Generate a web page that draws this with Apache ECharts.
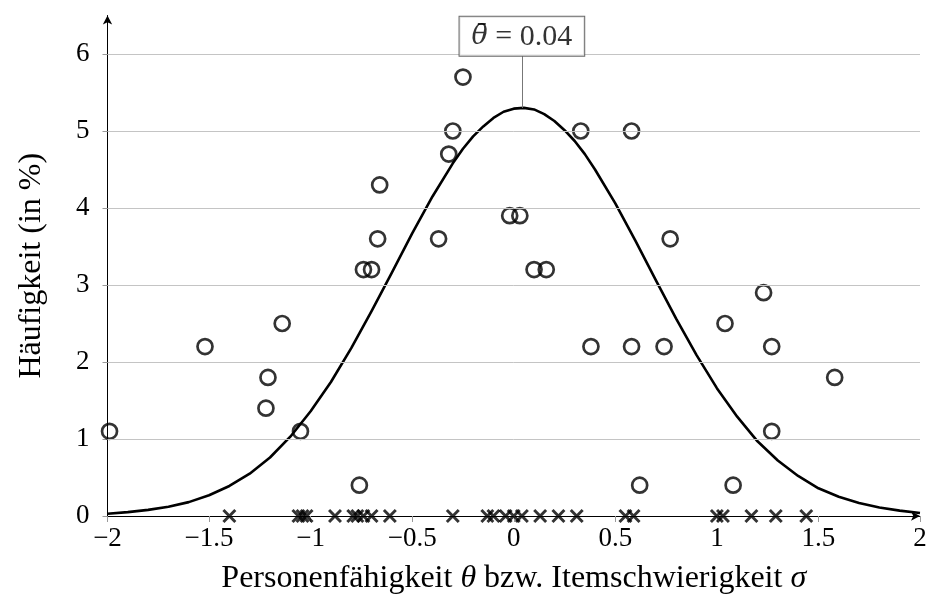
<!DOCTYPE html>
<html>
<head>
<meta charset="utf-8">
<script src="https://cdn.jsdelivr.net/npm/echarts@6/dist/echarts.min.js"></script>
<style>html,body{margin:0;padding:0;background:#fff}#c{width:930px;height:615px}</style>
</head>
<body>
<div id="c"></div>
<script>
// ---- data ----
const xTicks = [-2, -1.5, -1, -0.5, 0, 0.5, 1, 1.5, 2];
const xTickLabels = ['\u22122', '\u22121.5', '\u22121', '\u22120.5', '0', '0.5', '1', '1.5', '2'];
const yTicks = [0, 1, 2, 3, 4, 5, 6];
const yTickLabels = ['0', '1', '2', '3', '4', '5', '6'];

// Person abilities (circles): theta and frequency in %
const circleX = [-1.99, -1.52, -1.22, -1.21, -1.14, -1.05, -0.76, -0.74, -0.70, -0.67, -0.66, -0.37, -0.32, -0.30, -0.25, -0.02, 0.03, 0.10, 0.16, 0.33, 0.38, 0.58, 0.58, 0.62, 0.74, 0.77, 1.04, 1.08, 1.23, 1.27, 1.27, 1.58];
const circleY = [1.1, 2.2, 1.4, 1.8, 2.5, 1.1, 0.4, 3.2, 3.2, 3.6, 4.3, 3.6, 4.7, 5.0, 5.7, 3.9, 3.9, 3.2, 3.2, 5.0, 2.2, 5.0, 2.2, 0.4, 2.2, 3.6, 2.5, 0.4, 2.9, 2.2, 1.1, 1.8];

// Item difficulties (crosses) on the axis
const crossX = [-1.40, -1.06, -1.04, -1.02, -0.88, -0.79, -0.77, -0.74, -0.70, -0.61, -0.30, -0.13, -0.10, -0.04, 0.00, 0.04, 0.13, 0.22, 0.31, 0.55, 0.59, 1.00, 1.03, 1.17, 1.29, 1.44];
const crossY = [0, 0, 0, 0, 0, 0, 0, 0, 0, 0, 0, 0, 0, 0, 0, 0, 0, 0, 0, 0, 0, 0, 0, 0, 0, 0];

// Bell curve, values
const curveX = [-2.0, -1.9, -1.8, -1.7, -1.6, -1.5, -1.4, -1.3, -1.2, -1.1, -1.0, -0.9, -0.8, -0.7, -0.6, -0.5, -0.4, -0.3, -0.25, -0.2, -0.15, -0.1, -0.05, 0.0, 0.05, 0.1, 0.15, 0.2, 0.25, 0.3, 0.35, 0.4, 0.5, 0.6, 0.7, 0.8, 0.9, 1.0, 1.1, 1.2, 1.3, 1.4, 1.5, 1.6, 1.7, 1.8, 1.9, 2.0];
const curveY = [0.03, 0.05, 0.08, 0.12, 0.18, 0.27, 0.39, 0.55, 0.76, 1.03, 1.36, 1.74, 2.18, 2.66, 3.16, 3.67, 4.15, 4.58, 4.77, 4.93, 5.06, 5.17, 5.25, 5.29, 5.30, 5.28, 5.22, 5.13, 5.01, 4.87, 4.70, 4.50, 4.06, 3.57, 3.06, 2.56, 2.09, 1.66, 1.29, 0.97, 0.72, 0.52, 0.36, 0.25, 0.17, 0.11, 0.07, 0.04];

// Mean annotation
const meanTheta = [0.04];
const meanPeak = [5.30];
const meanBoxY = [5.97];
const meanText = ['= 0.04'];

const gridValues = [1, 2, 3, 4, 5, 6];

// ---- chart ----
const FONT = 'Liberation Serif';
const chart = echarts.init(document.getElementById('c'), null, {renderer: 'canvas'});
const lbl = (ticks, labels) => v => {
  const i = ticks.findIndex(t => Math.abs(t - v) < 1e-9);
  return i >= 0 ? labels[i] : '';
};

chart.setOption({
  animation: false,
  backgroundColor: '#fff',
  grid: {left: 107.5, right: 10, top: 15.5, bottom: 99, containLabel: false},
  xAxis: {
    type: 'value', min: -2, max: 2, interval: 0.5,
    name: 'Personenfähigkeit {i|θ} bzw. Itemschwierigkeit {i|σ}',
    nameLocation: 'middle', nameGap: 47,
    nameTextStyle: {fontFamily: FONT, fontSize: 32, color: '#000',
      rich: {i: {fontFamily: FONT, fontSize: 32, fontStyle: 'italic', color: '#000'}}},
    axisLine: {show: true, onZero: false, lineStyle: {color: '#000', width: 1},
      symbol: ['none', 'arrow'], symbolSize: [7, 9]},
    axisTick: {show: true, length: 6, lineStyle: {color: '#999'}},
    axisLabel: {fontFamily: FONT, fontSize: 27, color: '#000', margin: 9,
      formatter: lbl(xTicks, xTickLabels)},
    splitLine: {show: false}
  },
  yAxis: {
    type: 'value', min: 0, max: 6.5, interval: 1,
    name: 'Häufigkeit (in %)',
    nameLocation: 'middle', nameGap: 60, nameRotate: 90,
    nameTextStyle: {fontFamily: FONT, fontSize: 32, color: '#000'},
    axisLine: {show: true, onZero: false, lineStyle: {color: '#000', width: 1},
      symbol: ['none', 'arrow'], symbolSize: [7, 9]},
    axisTick: {show: true, length: 5, lineStyle: {color: '#999'}, customValues: yTicks},
    axisLabel: {fontFamily: FONT, fontSize: 27, color: '#000', margin: 18,
      customValues: yTicks, formatter: lbl(yTicks, yTickLabels)},
    splitLine: {show: false}
  },
  series: [
    {
      type: 'line', name: 'grid', data: [], silent: true, z: 1,
      markLine: {
        silent: true, symbol: ['none', 'none'], label: {show: false},
        lineStyle: {color: '#c4c4c4', width: 1, type: 'solid'},
        data: gridValues.map(v => ({yAxis: v}))
      }
    },
    {
      type: 'line', name: 'curve', smooth: false, showSymbol: false, z: 3,
      lineStyle: {color: '#000', width: 2.6, join: 'round'},
      data: curveX.map((x, i) => [x, curveY[i]])
    },
    {
      type: 'scatter', name: 'persons', z: 4,
      symbol: 'circle', symbolSize: 15,
      itemStyle: {color: 'rgba(0,0,0,0)', borderColor: '#000', borderWidth: 2.7},
      data: circleX.map((x, i) => [x, circleY[i]])
    },
    {
      type: 'scatter', name: 'items', z: 5, clip: false,
      symbol: 'path://M0,1.5L1.5,0L5,3.5L8.5,0L10,1.5L6.5,5L10,8.5L8.5,10L5,6.5L1.5,10L0,8.5L3.5,5Z',
      symbolSize: 14,
      itemStyle: {color: '#000', borderWidth: 0},
      data: crossX.map((x, i) => [x, crossY[i]])
    },
    {
      type: 'scatter', name: 'mean', z: 6, symbol: 'circle', symbolSize: 1, clip: false,
      itemStyle: {color: 'rgba(0,0,0,0)'},
      data: meanTheta.map((x, i) => [x, meanBoxY[i]]),
      label: {
        show: true, position: 'top', distance: 0,
        formatter: p => '{i|θ\u0304}{t| ' + meanText[p.dataIndex] + '}',
        fontFamily: FONT, fontSize: 30, color: '#000',
        backgroundColor: '#fff', borderColor: '#444', borderWidth: 1,
        padding: [5, 12, 4, 12],
        rich: {
          i: {fontFamily: 'DejaVu Serif', fontSize: 27, fontStyle: 'italic', color: '#000'},
          t: {fontFamily: FONT, fontSize: 30, color: '#000'}
        }
      },
      markLine: {
        silent: true, symbol: ['none', 'none'], label: {show: false},
        lineStyle: {color: '#777', width: 1, type: 'solid'},
        data: meanTheta.map((x, i) => [{coord: [x, meanPeak[i]]}, {coord: [x, meanBoxY[i]]}])
      }
    }
  ]
});
</script>
</body>
</html>
